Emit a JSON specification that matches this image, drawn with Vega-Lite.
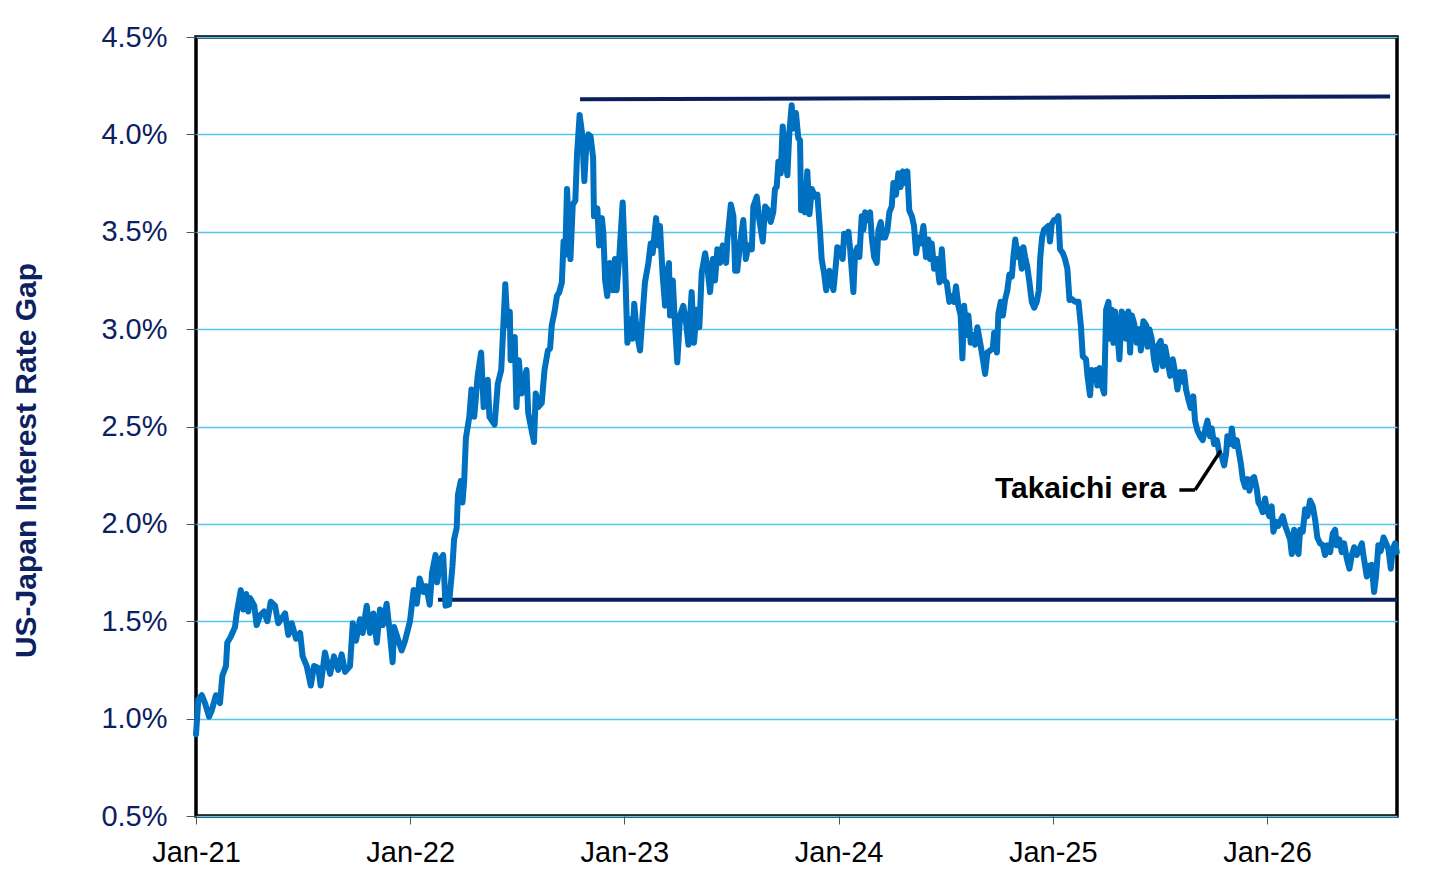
{
  "$schema": "https://vega.github.io/schema/vega-lite/v6.json",
  "width": 1201,
  "height": 779,
  "autosize": {"type": "none"},
  "padding": {"left": 196, "top": 37, "right": 59, "bottom": 70},
  "background": "white",
  "config": {
    "font": "Liberation Sans",
    "view": {"stroke": "#000000", "strokeWidth": 3.5}
  },
  "datasets": {
    "gap": [
{"t":2021.000,"v":0.92},{"t":2021.011,"v":1.10},{"t":2021.027,"v":1.12},{"t":2021.042,"v":1.08},{"t":2021.061,"v":1.01},{"t":2021.073,"v":1.04},{"t":2021.093,"v":1.12},{"t":2021.112,"v":1.08},{"t":2021.123,"v":1.22},{"t":2021.140,"v":1.27},{"t":2021.146,"v":1.39},{"t":2021.162,"v":1.42},{"t":2021.182,"v":1.47},{"t":2021.190,"v":1.54},{"t":2021.209,"v":1.66},{"t":2021.221,"v":1.56},{"t":2021.234,"v":1.64},{"t":2021.244,"v":1.55},{"t":2021.252,"v":1.62},{"t":2021.272,"v":1.58},{"t":2021.283,"v":1.48},{"t":2021.299,"v":1.53},{"t":2021.318,"v":1.55},{"t":2021.333,"v":1.50},{"t":2021.349,"v":1.60},{"t":2021.369,"v":1.58},{"t":2021.384,"v":1.49},{"t":2021.416,"v":1.54},{"t":2021.431,"v":1.43},{"t":2021.447,"v":1.49},{"t":2021.467,"v":1.41},{"t":2021.486,"v":1.44},{"t":2021.498,"v":1.32},{"t":2021.517,"v":1.27},{"t":2021.536,"v":1.17},{"t":2021.551,"v":1.27},{"t":2021.571,"v":1.26},{"t":2021.582,"v":1.17},{"t":2021.602,"v":1.34},{"t":2021.626,"v":1.23},{"t":2021.644,"v":1.32},{"t":2021.664,"v":1.25},{"t":2021.680,"v":1.33},{"t":2021.696,"v":1.24},{"t":2021.719,"v":1.27},{"t":2021.732,"v":1.49},{"t":2021.747,"v":1.40},{"t":2021.766,"v":1.51},{"t":2021.778,"v":1.44},{"t":2021.797,"v":1.58},{"t":2021.812,"v":1.44},{"t":2021.828,"v":1.54},{"t":2021.844,"v":1.39},{"t":2021.859,"v":1.56},{"t":2021.872,"v":1.48},{"t":2021.890,"v":1.59},{"t":2021.903,"v":1.46},{"t":2021.918,"v":1.29},{"t":2021.925,"v":1.47},{"t":2021.945,"v":1.40},{"t":2021.960,"v":1.35},{"t":2021.976,"v":1.40},
{"t":2021.999,"v":1.50},{"t":2022.016,"v":1.66},{"t":2022.031,"v":1.59},{"t":2022.044,"v":1.72},{"t":2022.063,"v":1.65},{"t":2022.075,"v":1.68},{"t":2022.091,"v":1.585},{"t":2022.102,"v":1.75},{"t":2022.118,"v":1.84},{"t":2022.126,"v":1.70},{"t":2022.142,"v":1.82},{"t":2022.154,"v":1.84},{"t":2022.165,"v":1.58},{"t":2022.181,"v":1.585},{"t":2022.197,"v":1.78},{"t":2022.205,"v":1.92},{"t":2022.217,"v":1.98},{"t":2022.223,"v":2.15},{"t":2022.236,"v":2.22},{"t":2022.244,"v":2.11},{"t":2022.252,"v":2.22},{"t":2022.260,"v":2.44},{"t":2022.276,"v":2.55},{"t":2022.286,"v":2.69},{"t":2022.299,"v":2.55},{"t":2022.315,"v":2.76},{"t":2022.331,"v":2.88},{"t":2022.343,"v":2.60},{"t":2022.362,"v":2.74},{"t":2022.370,"v":2.55},{"t":2022.394,"v":2.51},{"t":2022.409,"v":2.72},{"t":2022.425,"v":2.79},{"t":2022.444,"v":3.23},{"t":2022.454,"v":3.02},{"t":2022.465,"v":3.09},{"t":2022.469,"v":2.84},{"t":2022.488,"v":2.96},{"t":2022.496,"v":2.60},{"t":2022.507,"v":2.84},{"t":2022.520,"v":2.67},{"t":2022.543,"v":2.79},{"t":2022.551,"v":2.57},{"t":2022.567,"v":2.48},{"t":2022.578,"v":2.42},{"t":2022.586,"v":2.67},{"t":2022.598,"v":2.60},{"t":2022.614,"v":2.62},{"t":2022.627,"v":2.79},{"t":2022.643,"v":2.89},{"t":2022.653,"v":2.90},{"t":2022.661,"v":3.02},{"t":2022.674,"v":3.09},{"t":2022.685,"v":3.17},{"t":2022.696,"v":3.19},{"t":2022.708,"v":3.24},{"t":2022.716,"v":3.45},{"t":2022.724,"v":3.38},{"t":2022.732,"v":3.72},{"t":2022.748,"v":3.36},{"t":2022.759,"v":3.64},{"t":2022.771,"v":3.66},{"t":2022.779,"v":3.90},{"t":2022.791,"v":4.10},{"t":2022.803,"v":4.00},{"t":2022.813,"v":3.76},{"t":2022.822,"v":3.94},{"t":2022.832,"v":4.00},{"t":2022.842,"v":3.99},{"t":2022.854,"v":3.88},{"t":2022.858,"v":3.58},{"t":2022.874,"v":3.62},{"t":2022.882,"v":3.43},
{"t":2022.895,"v":3.57},{"t":2022.902,"v":3.49},{"t":2022.910,"v":3.25},{"t":2022.920,"v":3.17},{"t":2022.933,"v":3.34},{"t":2022.946,"v":3.20},{"t":2022.956,"v":3.36},{"t":2022.964,"v":3.20},{"t":2022.976,"v":3.37},{"t":2022.992,"v":3.65},{"t":2023.003,"v":3.34},{"t":2023.014,"v":2.93},{"t":2023.030,"v":3.05},{"t":2023.037,"v":2.95},{"t":2023.046,"v":3.13},{"t":2023.058,"v":2.98},{"t":2023.073,"v":2.89},{"t":2023.088,"v":3.12},{"t":2023.096,"v":3.24},{"t":2023.112,"v":3.34},{"t":2023.123,"v":3.44},{"t":2023.132,"v":3.39},{"t":2023.148,"v":3.57},{"t":2023.159,"v":3.43},{"t":2023.166,"v":3.53},{"t":2023.179,"v":3.27},{"t":2023.190,"v":3.12},{"t":2023.198,"v":3.27},{"t":2023.208,"v":3.34},{"t":2023.213,"v":3.07},{"t":2023.226,"v":3.25},{"t":2023.236,"v":3.03},{"t":2023.247,"v":2.83},{"t":2023.260,"v":3.07},{"t":2023.275,"v":3.12},{"t":2023.288,"v":3.03},{"t":2023.299,"v":2.92},{"t":2023.314,"v":3.19},{"t":2023.325,"v":2.93},{"t":2023.338,"v":3.10},{"t":2023.350,"v":3.01},{"t":2023.361,"v":3.29},{"t":2023.377,"v":3.39},{"t":2023.387,"v":3.32},{"t":2023.400,"v":3.19},{"t":2023.413,"v":3.36},{"t":2023.423,"v":3.25},{"t":2023.434,"v":3.41},{"t":2023.447,"v":3.34},{"t":2023.459,"v":3.43},{"t":2023.475,"v":3.34},{"t":2023.481,"v":3.46},{"t":2023.497,"v":3.64},{"t":2023.509,"v":3.58},{"t":2023.517,"v":3.30},{"t":2023.527,"v":3.30},{"t":2023.540,"v":3.44},{"t":2023.555,"v":3.56},{"t":2023.567,"v":3.36},{"t":2023.579,"v":3.43},{"t":2023.595,"v":3.41},{"t":2023.602,"v":3.63},{"t":2023.618,"v":3.68},{"t":2023.630,"v":3.56},{"t":2023.646,"v":3.45},{"t":2023.657,"v":3.63},{"t":2023.672,"v":3.61},{"t":2023.683,"v":3.55},{"t":2023.695,"v":3.60},{"t":2023.703,"v":3.72},{"t":2023.711,"v":3.73},{"t":2023.719,"v":3.86},{"t":2023.730,"v":3.80},{"t":2023.739,"v":4.04},{"t":2023.750,"v":3.89},{"t":2023.761,"v":3.79},{"t":2023.770,"v":4.01},{"t":2023.781,"v":4.15},{"t":2023.789,"v":4.03},{"t":2023.801,"v":4.11},{"t":2023.812,"v":3.98},{"t":2023.820,"v":3.97},{"t":2023.825,"v":3.61},{"t":2023.836,"v":3.72},{"t":2023.843,"v":3.60},{"t":2023.854,"v":3.81},{"t":2023.864,"v":3.59},{"t":2023.875,"v":3.72},{"t":2023.890,"v":3.68},{"t":2023.901,"v":3.69},{"t":2023.914,"v":3.49},{"t":2023.921,"v":3.36},{"t":2023.932,"v":3.29},{"t":2023.942,"v":3.20},{"t":2023.957,"v":3.30},
{"t":2023.976,"v":3.20},{"t":2023.988,"v":3.34},{"t":2023.994,"v":3.42},{"t":2024.007,"v":3.41},{"t":2024.019,"v":3.36},{"t":2024.026,"v":3.49},{"t":2024.038,"v":3.46},{"t":2024.046,"v":3.50},{"t":2024.054,"v":3.41},{"t":2024.069,"v":3.19},{"t":2024.077,"v":3.39},{"t":2024.088,"v":3.42},{"t":2024.097,"v":3.37},{"t":2024.108,"v":3.58},{"t":2024.116,"v":3.51},{"t":2024.124,"v":3.60},{"t":2024.134,"v":3.56},{"t":2024.147,"v":3.60},{"t":2024.155,"v":3.47},{"t":2024.166,"v":3.37},{"t":2024.178,"v":3.34},{"t":2024.186,"v":3.51},{"t":2024.197,"v":3.55},{"t":2024.206,"v":3.47},{"t":2024.217,"v":3.47},{"t":2024.228,"v":3.51},{"t":2024.237,"v":3.60},{"t":2024.248,"v":3.63},{"t":2024.256,"v":3.75},{"t":2024.268,"v":3.69},{"t":2024.279,"v":3.80},{"t":2024.290,"v":3.73},{"t":2024.300,"v":3.81},{"t":2024.310,"v":3.75},{"t":2024.321,"v":3.81},{"t":2024.330,"v":3.61},{"t":2024.342,"v":3.58},{"t":2024.352,"v":3.53},{"t":2024.362,"v":3.39},{"t":2024.372,"v":3.47},{"t":2024.384,"v":3.44},{"t":2024.396,"v":3.53},{"t":2024.408,"v":3.37},{"t":2024.419,"v":3.46},{"t":2024.427,"v":3.36},{"t":2024.435,"v":3.44},{"t":2024.446,"v":3.31},{"t":2024.458,"v":3.36},{"t":2024.471,"v":3.24},{"t":2024.482,"v":3.41},{"t":2024.492,"v":3.25},{"t":2024.505,"v":3.24},{"t":2024.517,"v":3.14},{"t":2024.528,"v":3.17},{"t":2024.539,"v":3.14},{"t":2024.548,"v":3.22},{"t":2024.559,"v":3.12},{"t":2024.570,"v":3.07},{"t":2024.578,"v":2.85},{"t":2024.586,"v":3.12},{"t":2024.598,"v":2.97},{"t":2024.606,"v":3.07},{"t":2024.617,"v":2.93},{"t":2024.629,"v":2.97},{"t":2024.637,"v":2.92},{"t":2024.648,"v":3.01},{"t":2024.661,"v":2.93},{"t":2024.673,"v":2.85},{"t":2024.684,"v":2.77},{"t":2024.695,"v":2.88},{"t":2024.707,"v":2.89},{"t":2024.720,"v":2.90},{"t":2024.726,"v":2.98},{"t":2024.739,"v":2.88},{"t":2024.746,"v":3.08},{"t":2024.757,"v":3.14},{"t":2024.767,"v":3.07},{"t":2024.777,"v":3.15},{"t":2024.788,"v":3.20},{"t":2024.797,"v":3.28},{"t":2024.809,"v":3.27},{"t":2024.816,"v":3.37},{"t":2024.825,"v":3.46},{"t":2024.835,"v":3.37},{"t":2024.844,"v":3.41},{"t":2024.855,"v":3.31},{"t":2024.863,"v":3.42},{"t":2024.871,"v":3.37},{"t":2024.881,"v":3.32},{"t":2024.891,"v":3.24},{"t":2024.902,"v":3.14},{"t":2024.913,"v":3.11},{"t":2024.925,"v":3.14},{"t":2024.935,"v":3.20},{"t":2024.941,"v":3.36},{"t":2024.950,"v":3.47},{"t":2024.959,"v":3.51},{"t":2024.969,"v":3.52},{"t":2024.979,"v":3.53},{"t":2024.987,"v":3.45},{"t":2024.995,"v":3.54},{"t":2025.006,"v":3.56},{"t":2025.015,"v":3.56},{"t":2025.026,"v":3.58},{"t":2025.034,"v":3.41},{"t":2025.047,"v":3.39},{"t":2025.057,"v":3.36},{"t":2025.068,"v":3.31},{"t":2025.078,"v":3.15},
{"t":2025.089,"v":3.155},{"t":2025.104,"v":3.14},{"t":2025.120,"v":3.14},{"t":2025.131,"v":3.02},{"t":2025.140,"v":2.86},{"t":2025.155,"v":2.845},{"t":2025.162,"v":2.76},{"t":2025.174,"v":2.66},{"t":2025.182,"v":2.79},{"t":2025.190,"v":2.74},{"t":2025.202,"v":2.79},{"t":2025.208,"v":2.71},{"t":2025.218,"v":2.80},{"t":2025.229,"v":2.71},{"t":2025.240,"v":2.67},{"t":2025.249,"v":3.10},{"t":2025.260,"v":3.14},{"t":2025.268,"v":2.95},{"t":2025.275,"v":3.10},{"t":2025.283,"v":2.93},{"t":2025.291,"v":3.09},{"t":2025.302,"v":2.97},{"t":2025.311,"v":2.845},{"t":2025.322,"v":3.09},{"t":2025.333,"v":3.07},{"t":2025.342,"v":2.95},{"t":2025.353,"v":3.09},{"t":2025.361,"v":2.88},{"t":2025.369,"v":3.07},{"t":2025.380,"v":3.03},{"t":2025.392,"v":2.93},{"t":2025.404,"v":3.00},{"t":2025.411,"v":2.89},{"t":2025.423,"v":3.04},{"t":2025.436,"v":3.02},{"t":2025.442,"v":2.91},{"t":2025.451,"v":3.00},{"t":2025.462,"v":2.95},{"t":2025.473,"v":2.84},{"t":2025.482,"v":2.79},{"t":2025.493,"v":2.92},{"t":2025.504,"v":2.94},{"t":2025.514,"v":2.81},{"t":2025.524,"v":2.91},{"t":2025.535,"v":2.845},{"t":2025.548,"v":2.76},{"t":2025.560,"v":2.845},{"t":2025.571,"v":2.78},{"t":2025.582,"v":2.69},{"t":2025.594,"v":2.78},{"t":2025.607,"v":2.73},{"t":2025.613,"v":2.78},{"t":2025.622,"v":2.69},{"t":2025.633,"v":2.64},{"t":2025.644,"v":2.595},{"t":2025.656,"v":2.655},{"t":2025.664,"v":2.53},{"t":2025.675,"v":2.48},{"t":2025.688,"v":2.45},{"t":2025.700,"v":2.43},{"t":2025.711,"v":2.48},{"t":2025.722,"v":2.53},{"t":2025.734,"v":2.45},{"t":2025.742,"v":2.49},{"t":2025.753,"v":2.41},{"t":2025.766,"v":2.43},{"t":2025.778,"v":2.36},{"t":2025.789,"v":2.345},{"t":2025.800,"v":2.30},{"t":2025.809,"v":2.36},{"t":2025.815,"v":2.45},{"t":2025.828,"v":2.41},
{"t":2025.836,"v":2.49},{"t":2025.846,"v":2.40},{"t":2025.859,"v":2.43},{"t":2025.867,"v":2.38},{"t":2025.878,"v":2.31},{"t":2025.887,"v":2.23},{"t":2025.898,"v":2.19},{"t":2025.909,"v":2.23},{"t":2025.918,"v":2.17},{"t":2025.929,"v":2.23},{"t":2025.940,"v":2.24},{"t":2025.952,"v":2.18},{"t":2025.960,"v":2.11},{"t":2025.971,"v":2.09},{"t":2025.980,"v":2.06},{"t":2025.991,"v":2.13},{"t":2025.999,"v":2.075},{"t":2026.011,"v":2.04},{"t":2026.022,"v":2.09},{"t":2026.030,"v":1.96},{"t":2026.043,"v":2.01},{"t":2026.053,"v":1.99},{"t":2026.065,"v":2.02},{"t":2026.074,"v":2.04},{"t":2026.085,"v":1.99},{"t":2026.095,"v":1.96},{"t":2026.108,"v":1.92},{"t":2026.116,"v":1.845},{"t":2026.127,"v":1.97},{"t":2026.136,"v":1.87},{"t":2026.147,"v":1.845},{"t":2026.155,"v":1.97},{"t":2026.167,"v":1.96},{"t":2026.178,"v":2.075},{"t":2026.189,"v":2.04},{"t":2026.201,"v":2.12},{"t":2026.214,"v":2.09},{"t":2026.225,"v":2.02},{"t":2026.235,"v":1.93},{"t":2026.248,"v":1.90},{"t":2026.261,"v":1.89},{"t":2026.271,"v":1.84},{"t":2026.282,"v":1.89},{"t":2026.295,"v":1.855},{"t":2026.307,"v":1.95},{"t":2026.318,"v":1.97},{"t":2026.326,"v":1.89},{"t":2026.338,"v":1.92},{"t":2026.349,"v":1.855},{"t":2026.360,"v":1.90},{"t":2026.373,"v":1.82},{"t":2026.385,"v":1.77},{"t":2026.396,"v":1.84},{"t":2026.407,"v":1.88},{"t":2026.419,"v":1.84},{"t":2026.432,"v":1.87},{"t":2026.443,"v":1.90},{"t":2026.450,"v":1.84},{"t":2026.466,"v":1.73},{"t":2026.478,"v":1.785},{"t":2026.489,"v":1.79},{"t":2026.500,"v":1.65},{"t":2026.509,"v":1.73},{"t":2026.520,"v":1.89},{"t":2026.531,"v":1.86},{"t":2026.544,"v":1.93},{"t":2026.556,"v":1.90},{"t":2026.567,"v":1.87},{"t":2026.578,"v":1.77},{"t":2026.587,"v":1.87},{"t":2026.598,"v":1.90},{"t":2026.606,"v":1.855}
    ]
  },
  "layer": [
    {
      "data": {"values": [{}]},
      "mark": {"type": "rule", "color": "#0a1f5c", "strokeWidth": 4},
      "encoding": {
        "x": {"datum": 2022.793, "type": "quantitative"},
        "x2": {"datum": 2026.575},
        "y": {"datum": 4.18, "type": "quantitative"},
        "y2": {"datum": 4.195}
      }
    },
    {
      "data": {"values": [{}]},
      "mark": {"type": "rule", "color": "#0a1f5c", "strokeWidth": 4},
      "encoding": {
        "x": {"datum": 2022.130, "type": "quantitative"},
        "x2": {"datum": 2026.607},
        "y": {"datum": 1.61, "type": "quantitative"},
        "y2": {"datum": 1.61}
      }
    },
    {
      "data": {"name": "gap"},
      "mark": {"type": "line", "color": "#0070c0", "strokeWidth": 6, "strokeJoin": "round", "strokeCap": "round"},
      "encoding": {
        "x": {
          "field": "t", "type": "quantitative",
          "scale": {"domain": [2021, 2026.607], "nice": false, "zero": false},
          "axis": {
            "values": [2021, 2022, 2023, 2024, 2025, 2026],
            "labelExpr": "'Jan-' + format(datum.value - 2000, '02d')",
            "grid": false, "domain": false,
            "ticks": true, "tickSize": 8, "tickColor": "#555555", "tickWidth": 1,
            "labelFontSize": 29, "labelColor": "#000000", "labelPadding": 14,
            "labelFont": "Liberation Sans", "labelFlush": false, "labelOverlap": false,
            "title": null
          }
        },
        "y": {
          "field": "v", "type": "quantitative",
          "scale": {"domain": [0.5, 4.5], "nice": false, "zero": false},
          "axis": {
            "values": [0.5, 1, 1.5, 2, 2.5, 3, 3.5, 4, 4.5],
            "labelExpr": "format(datum.value, '.1f') + '%'",
            "grid": true, "gridColor": "#55c4ef", "gridWidth": 1.5,
            "domain": false,
            "ticks": true, "tickSize": 10, "tickColor": "#555555", "tickWidth": 1,
            "labelFontSize": 29, "labelColor": "#0c2161", "labelPadding": 19,
            "labelFont": "Liberation Sans", "labelFlush": false, "labelOverlap": false,
            "title": "US-Japan Interest Rate Gap",
            "titleFont": "Liberation Sans", "titleFontSize": 30, "titleFontWeight": "bold",
            "titleColor": "#0c2161", "titleAngle": -90, "titleAlign": "center",
            "titleBaseline": "alphabetic", "titleX": -161, "titleY": 423
          }
        }
      }
    },
    {
      "data": {"values": [{}]},
      "mark": {"type": "rule", "color": "#000000", "strokeWidth": 3.5},
      "encoding": {
        "x": {"datum": 2025.591, "type": "quantitative"},
        "x2": {"datum": 2025.664},
        "y": {"datum": 2.174, "type": "quantitative"},
        "y2": {"datum": 2.174}
      }
    },
    {
      "data": {"values": [{}]},
      "mark": {"type": "rule", "color": "#000000", "strokeWidth": 3.5},
      "encoding": {
        "x": {"datum": 2025.664, "type": "quantitative"},
        "x2": {"datum": 2025.784},
        "y": {"datum": 2.174, "type": "quantitative"},
        "y2": {"datum": 2.376}
      }
    },
    {
      "data": {"values": [{}]},
      "mark": {"type": "text", "text": "Takaichi era", "font": "Liberation Sans", "fontSize": 30, "fontWeight": "bold", "color": "#000000", "align": "right", "baseline": "alphabetic"},
      "encoding": {
        "x": {"datum": 2025.529, "type": "quantitative"},
        "y": {"datum": 2.133, "type": "quantitative"}
      }
    }
  ]
}
